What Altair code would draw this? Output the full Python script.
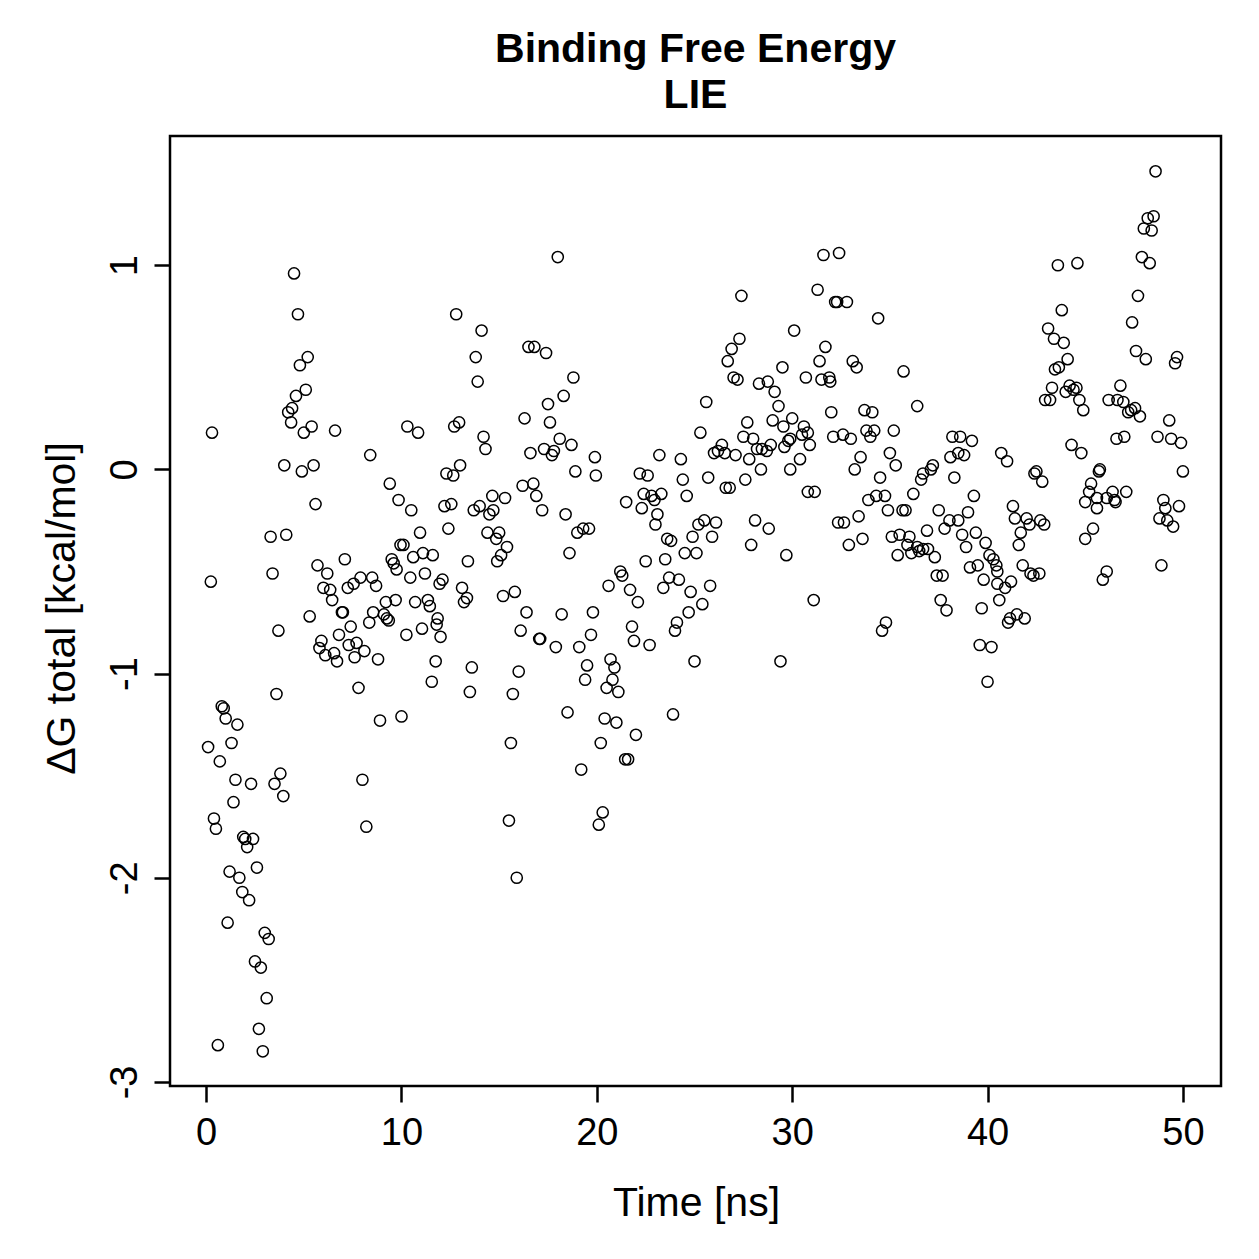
import altair as alt
import pandas as pd

# Binding free energy (LIE) sampled along the trajectory, split by 10 ns blocks
t_00_10 = [4.5, 4.7, 5.2, 4.8, 5.1, 4.6, 4.4, 4.2, 4.35, 5.4, 5.0, 6.6, 0.3, 4.0, 4.9, 5.5,
           8.4, 5.6, 9.4, 9.85, 3.3, 4.1, 3.4, 0.24, 5.7, 7.1, 6.2, 9.5, 9.6, 9.75, 9.95, 6.0,
           6.35, 6.45, 7.25, 7.55, 7.9, 8.5, 8.7, 9.2, 9.7, 5.3, 6.95, 7.0, 8.55, 9.1, 9.25,
           9.35, 8.35, 3.7, 7.4, 6.8, 5.9, 5.8, 6.1, 6.55, 6.7, 7.3, 7.7, 7.6, 8.1, 8.8, 7.8,
           8.9, 10.0, 3.6, 0.8, 0.9, 1.0, 1.6, 0.1, 1.3, 0.7, 1.5, 2.3, 3.8, 3.5, 3.95, 8.0,
           1.4, 0.4, 0.5, 8.2, 1.9, 2.0, 2.4, 2.1, 2.6, 1.2, 1.7, 1.85, 2.2, 1.1, 3.0, 3.2,
           2.5, 2.8, 3.1, 2.7, 0.6, 2.9]
g_00_10 = [0.96, 0.76, 0.55, 0.51, 0.39, 0.36, 0.30, 0.28, 0.23, 0.21, 0.18, 0.19, 0.18, 0.02, -0.01, 0.02,
           0.07, -0.17, -0.07, -0.15, -0.33, -0.32, -0.51, -0.55, -0.47, -0.44, -0.51, -0.44, -0.46, -0.49, -0.37, -0.58,
           -0.59, -0.64, -0.58, -0.56, -0.53, -0.53, -0.57, -0.65, -0.64, -0.72, -0.70, -0.70, -0.70, -0.71, -0.73,
           -0.74, -0.75, -0.79, -0.77, -0.81, -0.84, -0.875, -0.91, -0.90, -0.94, -0.86, -0.85, -0.92, -0.89, -0.93, -1.07,
           -1.23, -1.21, -1.10, -1.16, -1.17, -1.22, -1.25, -1.36, -1.34, -1.43, -1.52, -1.54, -1.49, -1.54, -1.60, -1.52,
           -1.63, -1.71, -1.76, -1.75, -1.80, -1.81, -1.81, -1.85, -1.95, -1.97, -2.00, -2.07, -2.11, -2.22, -2.27, -2.30,
           -2.41, -2.44, -2.59, -2.74, -2.82, -2.85]

t_10_20 = [18.0, 12.8, 14.1, 13.8, 13.9, 16.5, 16.8, 17.4, 18.8, 18.3, 17.5, 16.3, 17.6, 10.3, 10.85, 12.7,
           12.95, 14.2, 14.3, 18.1, 18.7, 16.6, 17.3, 17.8, 17.7, 19.9, 18.9, 19.95, 12.3, 12.65, 13.0, 10.5,
           12.2, 12.55, 12.4, 10.95, 10.1, 13.7, 14.0, 14.7, 14.5, 14.65, 15.3, 16.2, 16.75, 16.9, 17.2, 18.4,
           19.0, 19.3, 19.6, 18.6, 14.4, 15.0, 14.85, 15.4, 15.1, 14.9, 13.4, 10.45, 10.6, 11.1, 11.6, 11.2,
           11.95, 12.1, 13.1, 13.35, 13.2, 15.2, 15.8, 10.7, 11.35, 11.45, 16.4, 18.2, 19.8, 11.85, 16.1, 17.05,
           17.1, 17.9, 19.1, 19.7, 19.5, 19.4, 10.25, 11.05, 11.8, 12.0, 11.75, 11.55, 13.6, 13.5, 16.0, 15.7,
           18.5, 15.6, 19.2, 15.5, 15.9]
g_10_20 = [1.04, 0.76, 0.68, 0.55, 0.43, 0.60, 0.60, 0.57, 0.45, 0.36, 0.32, 0.25, 0.23, 0.21, 0.18, 0.21,
           0.23, 0.16, 0.10, 0.15, 0.12, 0.08, 0.10, 0.09, 0.07, 0.06, -0.01, -0.03, -0.02, -0.03, 0.02, -0.20,
           -0.18, -0.17, -0.29, -0.31, -0.37, -0.20, -0.18, -0.20, -0.22, -0.13, -0.14, -0.08, -0.07, -0.13, -0.20, -0.22,
           -0.31, -0.29, -0.29, -0.41, -0.31, -0.31, -0.34, -0.38, -0.42, -0.45, -0.45, -0.53, -0.43, -0.41, -0.42, -0.51,
           -0.56, -0.54, -0.58, -0.63, -0.65, -0.62, -0.60, -0.65, -0.64, -0.67, -0.70, -0.71, -0.70, -0.73, -0.79, -0.83,
           -0.83, -0.87, -0.87, -0.81, -0.96, -1.03, -0.81, -0.78, -0.76, -0.82, -0.94, -1.04, -0.97, -1.09, -0.99, -1.10,
           -1.19, -1.34, -1.47, -1.72, -2.00]

t_20_30 = [27.4, 30.1, 27.3, 26.9, 26.7, 27.0, 27.2, 29.5, 28.3, 28.75, 29.1, 29.3, 25.6, 27.7, 29.0, 29.55,
           30.0, 25.3, 27.5, 28.0, 26.4, 26.2, 26.0, 26.55, 27.1, 28.2, 28.45, 28.7, 28.9, 29.6, 29.8, 27.8,
           28.4, 29.9, 23.2, 24.3, 24.4, 25.7, 27.6, 22.2, 22.6, 26.6, 26.8, 22.4, 22.8, 23.3, 22.95, 24.6,
           21.5, 22.3, 23.1, 23.0, 25.2, 25.5, 26.1, 24.9, 25.9, 23.6, 23.8, 28.1, 28.8, 27.9, 29.7, 24.5,
           25.1, 22.5, 23.5, 21.2, 21.3, 20.6, 21.7, 22.1, 23.7, 24.2, 23.4, 24.8, 25.8, 25.4, 24.7, 24.1,
           21.8, 21.9, 22.7, 24.0, 25.0, 29.4, 20.7, 20.9, 20.8, 20.5, 21.1, 20.4, 21.0, 20.2, 22.0, 23.9,
           21.45, 21.6, 20.3, 20.1]
g_20_30 = [0.85, 0.68, 0.64, 0.59, 0.53, 0.45, 0.44, 0.50, 0.42, 0.43, 0.38, 0.31, 0.33, 0.23, 0.24, 0.21,
           0.25, 0.18, 0.16, 0.15, 0.12, 0.09, 0.08, 0.08, 0.07, 0.10, 0.10, 0.09, 0.12, 0.11, 0.14, 0.05,
           0.00, 0.00, 0.07, 0.05, -0.05, -0.04, -0.05, -0.02, -0.03, -0.09, -0.09, -0.12, -0.13, -0.12, -0.15, -0.13,
           -0.16, -0.19, -0.22, -0.27, -0.27, -0.25, -0.26, -0.33, -0.33, -0.34, -0.35, -0.25, -0.29, -0.37, -0.42, -0.41,
           -0.41, -0.45, -0.44, -0.50, -0.52, -0.57, -0.59, -0.65, -0.53, -0.54, -0.58, -0.60, -0.57, -0.66, -0.70, -0.75,
           -0.77, -0.84, -0.86, -0.79, -0.94, -0.94, -0.93, -0.97, -1.03, -1.07, -1.09, -1.22, -1.24, -1.34, -1.30, -1.20,
           -1.42, -1.42, -1.68, -1.74]

t_30_40 = [31.6, 32.4, 31.3, 32.2, 32.3, 32.8, 34.4, 31.7, 31.4, 33.1, 33.3, 35.7, 30.7, 31.5, 31.9, 31.95,
           36.4, 32.0, 33.7, 34.1, 30.6, 30.8, 30.5, 30.9, 32.1, 32.6, 33.0, 33.8, 34.2, 34.0, 35.2, 29.9,
           30.4, 33.5, 33.2, 34.5, 35.0, 35.3, 30.8, 31.15, 33.9, 34.3, 34.75, 34.9, 35.65, 35.8, 36.2, 36.6,
           36.7, 37.1, 37.2, 38.2, 38.6, 39.2, 38.1, 38.5, 38.8, 38.3, 39.3, 37.5, 39.0, 38.5, 38.05, 37.8,
           36.9, 32.35, 32.65, 33.4, 32.9, 33.6, 35.1, 35.5, 36.0, 35.4, 35.9, 36.1, 36.4, 36.5, 36.7, 36.95,
           37.3, 38.7, 39.4, 39.9, 38.9, 40.1, 40.3, 40.45, 40.5, 39.1, 39.5, 37.4, 37.7, 39.8, 40.5, 31.1,
           37.6, 37.9, 39.7, 34.8, 34.6, 40.6, 39.6, 40.2, 40.0]
g_30_40 = [1.05, 1.06, 0.88, 0.82, 0.82, 0.82, 0.74, 0.60, 0.53, 0.53, 0.50, 0.48, 0.45, 0.44, 0.45, 0.43,
           0.31, 0.28, 0.29, 0.28, 0.21, 0.18, 0.17, 0.12, 0.16, 0.17, 0.15, 0.19, 0.19, 0.16, 0.19, 0.15,
           0.05, 0.06, 0.00, -0.04, 0.08, 0.02, -0.11, -0.11, -0.15, -0.13, -0.13, -0.20, -0.20, -0.20, -0.12, -0.05,
           -0.02, 0.00, 0.02, 0.16, 0.16, 0.14, 0.06, 0.08, 0.07, -0.04, -0.13, -0.20, -0.21, -0.25, -0.25, -0.29,
           -0.30, -0.26, -0.26, -0.23, -0.37, -0.34, -0.33, -0.32, -0.33, -0.42, -0.37, -0.41, -0.38, -0.40, -0.39, -0.39,
           -0.43, -0.32, -0.31, -0.36, -0.38, -0.42, -0.44, -0.47, -0.50, -0.48, -0.47, -0.52, -0.52, -0.54, -0.56, -0.64,
           -0.64, -0.69, -0.68, -0.75, -0.79, -0.64, -0.86, -0.87, -1.04]

t_40_50 = [48.6, 48.2, 48.5, 48.0, 48.4, 47.9, 48.3, 43.6, 44.6, 47.7, 47.4, 43.8, 43.1, 43.4, 43.9, 44.1,
           43.45, 43.65, 47.6, 48.1, 49.7, 49.6, 43.3, 42.95, 43.2, 44.2, 44.55, 44.0, 44.4, 44.7, 44.9, 46.8,
           46.2, 46.65, 46.95, 47.2, 47.35, 47.55, 47.8, 49.3, 46.6, 47.0, 48.7, 49.4, 49.9, 44.3, 44.8, 40.7,
           41.0, 50.0, 42.5, 42.4, 42.8, 45.75, 45.7, 45.3, 45.2, 45.0, 45.6, 45.6, 46.1, 46.4, 46.5, 46.55,
           47.1, 49.0, 49.1, 49.8, 48.8, 49.2, 49.5, 41.3, 41.4, 42.0, 42.15, 42.7, 42.9, 41.7, 41.6, 45.4,
           45.0, 40.9, 41.2, 41.8, 42.2, 42.35, 42.65, 46.1, 45.9, 48.9, 41.5, 41.9, 41.15, 41.05]
g_40_50 = [1.46, 1.23, 1.24, 1.18, 1.17, 1.04, 1.01, 1.00, 1.01, 0.85, 0.72, 0.78, 0.69, 0.64, 0.62, 0.54,
           0.49, 0.50, 0.58, 0.54, 0.55, 0.52, 0.40, 0.34, 0.34, 0.41, 0.40, 0.38, 0.39, 0.34, 0.29, 0.41,
           0.34, 0.34, 0.33, 0.28, 0.29, 0.30, 0.26, 0.24, 0.15, 0.16, 0.16, 0.15, 0.13, 0.12, 0.08, 0.08,
           0.04, -0.01, -0.01, -0.02, -0.06, 0.00, -0.01, -0.07, -0.11, -0.16, -0.14, -0.19, -0.14, -0.11, -0.15, -0.16,
           -0.11, -0.15, -0.19, -0.18, -0.24, -0.25, -0.28, -0.18, -0.24, -0.24, -0.27, -0.25, -0.27, -0.31, -0.37, -0.29,
           -0.34, -0.58, -0.55, -0.47, -0.51, -0.52, -0.51, -0.50, -0.54, -0.47, -0.71, -0.73, -0.73, -0.75]

x_ticks = [0, 10, 20, 30, 40, 50]
y_ticks = [-3, -2, -1, 0, 1]

df = pd.DataFrame({
    "time": t_00_10 + t_10_20 + t_20_30 + t_30_40 + t_40_50,
    "dg": g_00_10 + g_10_20 + g_20_30 + g_30_40 + g_40_50,
})

FONT = "Liberation Sans"
# plain ASCII hyphen for negative tick labels
PLAIN_LABEL = "'' + datum.value"

points = alt.Chart(df).mark_point(
    shape="circle", filled=False, size=125, strokeWidth=1.5, color="black", opacity=1
).encode(
    x=alt.X(
        "time:Q",
        scale=alt.Scale(domain=[-1.85, 51.95], nice=False, zero=False),
        axis=alt.Axis(
            values=x_ticks, labelExpr=PLAIN_LABEL, title="Time [ns]", grid=False, domain=False,
            tickSize=16, tickWidth=2.5, tickColor="black",
            labelFontSize=38, labelColor="black", labelPadding=12, labelFont=FONT,
            titleFontSize=41, titleFontWeight="normal", titleColor="black", titleFont=FONT,
            titleX=526, titleY=129, titleBaseline="alphabetic", titleAlign="center",
        ),
    ),
    y=alt.Y(
        "dg:Q",
        scale=alt.Scale(domain=[-3.02, 1.633], nice=False, zero=False),
        axis=alt.Axis(
            values=y_ticks, labelExpr=PLAIN_LABEL, title="ΔG total [kcal/mol]", grid=False, domain=False,
            tickSize=16, tickWidth=2.5, tickColor="black",
            labelFontSize=38, labelColor="black", labelPadding=18, labelFont=FONT,
            labelAngle=270, labelAlign="center", labelBaseline="alphabetic",
            titleFontSize=41, titleFontWeight="normal", titleColor="black", titleFont=FONT,
            titleAngle=270, titleX=-96, titleY=472, titleBaseline="alphabetic", titleAlign="center",
        ),
    ),
).properties(
    width=1051,
    height=950,
    title=alt.TitleParams(
        text=["Binding Free Energy", "LIE"],
        fontSize=41, fontWeight="bold", font=FONT, color="black",
        anchor="middle", lineHeight=46, offset=19,
    ),
)

chart = points.configure_view(
    stroke="black", strokeWidth=2.5
).properties(
    autosize=alt.AutoSizeParams(type="none"),
    padding={"left": 170, "top": 136, "right": 38, "bottom": 173},
    background="white",
)

chart.save("out.html", embed_options={"renderer": "svg", "actions": False})
